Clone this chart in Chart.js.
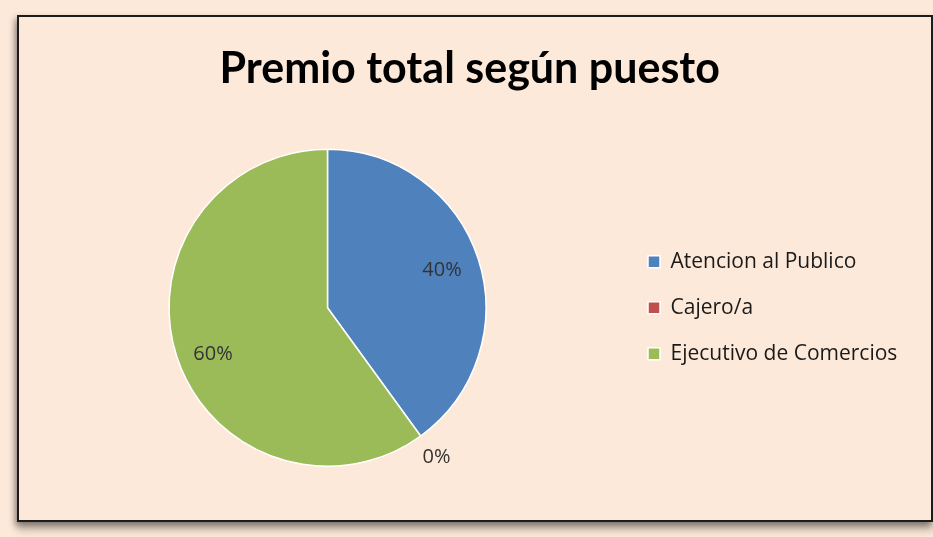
<!DOCTYPE html>
<html>
<head>
<meta charset="utf-8">
<script src="https://cdn.jsdelivr.net/npm/chart.js@4.4.1/dist/chart.umd.min.js"></script>
<style>
  html, body { margin: 0; padding: 0; background: #fde9d9; }
  #frame {
    position: absolute; left: 17px; top: 15px; width: 916px; height: 507px;
    box-sizing: border-box; border: 2px solid #1c1c1c;
    box-shadow: -2px 3px 6px rgba(0,0,0,0.35), 0 8px 8px rgba(0,0,0,0.25);
  }
  #chart { position: absolute; left: 0; top: 0; }
</style>
</head>
<body>
<div id="frame"></div>
<canvas id="chart" width="933" height="537"></canvas>
<script>
const puestos = ['Atencion al Publico', 'Cajero/a', 'Ejecutivo de Comercios'];
const premio = [40, 0, 60];
const colores = ['#4f81bd', '#c0504d', '#9bbb59'];

const legendFont = 21;
const labelFamily = '"Open Sans", sans-serif';
const titleFamily = 'Lato, "Open Sans", sans-serif';

// measure the widest legend entry so the legend starts where it should
const mctx = document.createElement('canvas').getContext('2d');
mctx.font = legendFont + 'px ' + labelFamily;
const widest = Math.max(...puestos.map(p => mctx.measureText(p).width));
const itemWidth = 12 + legendFont / 2 + widest;
const legendPad = 46 - legendFont;
// chart.js adds 10px to the width of a vertical legend
const padRight = Math.max(4, 933 - 648 - itemWidth - 10);

const sliceLabels = {
  id: 'sliceLabels',
  afterDatasetsDraw(chart) {
    const ctx = chart.ctx;
    const meta = chart.getDatasetMeta(0);
    const total = premio.reduce((a, b) => a + b, 0);
    ctx.save();
    ctx.font = '20px ' + labelFamily;
    ctx.fillStyle = '#333333';
    ctx.textAlign = 'center';
    ctx.textBaseline = 'middle';
    meta.data.forEach((arc, i) => {
      const p = arc.getProps(['x', 'y', 'startAngle', 'endAngle', 'outerRadius'], true);
      const mid = (p.startAngle + p.endAngle) / 2;
      const r = premio[i] === 0 ? p.outerRadius * 1.17 : p.outerRadius * 0.76;
      const pct = Math.round(premio[i] / total * 100) + '%';
      ctx.fillText(pct, p.x + Math.cos(mid) * r, p.y + Math.sin(mid) * r + (i === 2 ? 9 : 0));
    });
    ctx.restore();
  }
};

new Chart(document.getElementById('chart'), {
  type: 'pie',
  data: {
    labels: puestos,
    datasets: [{
      data: premio,
      backgroundColor: colores,
      borderColor: '#ffffff',
      borderWidth: 1.5
    }]
  },
  options: {
    responsive: false,
    animation: false,
    layout: { padding: { left: 32, right: padRight, top: 20, bottom: 70 } },
    plugins: {
      title: {
        display: true,
        text: 'Premio total según puesto',
        color: '#000',
        font: { family: titleFamily, size: 43, weight: 'bold', lineHeight: 1.2 },
        padding: { top: 23, bottom: 54 }
      },
      legend: {
        position: 'right',
        align: 'center',
        fullSize: false,
        labels: {
          boxWidth: 12,
          boxHeight: 12,
          padding: legendPad,
          color: '#1a1a1a',
          font: { family: labelFamily, size: legendFont }
        }
      },
      tooltip: { enabled: false }
    }
  },
  plugins: [sliceLabels]
});
</script>
</body>
</html>
